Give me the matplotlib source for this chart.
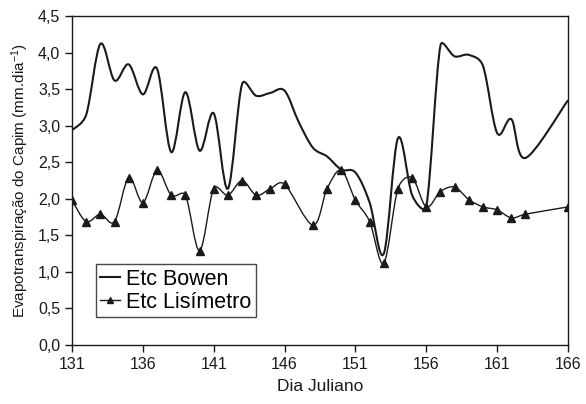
import matplotlib
matplotlib.use("Agg")
from matplotlib import pyplot as plt
from matplotlib.path import Path
from matplotlib.patches import PathPatch
from matplotlib.lines import Line2D
import numpy as np

plt.rcParams['font.family'] = ['Liberation Sans', 'DejaVu Sans']
plt.rcParams['mathtext.fontset'] = 'custom'
plt.rcParams['mathtext.rm'] = 'Liberation Sans'
plt.rcParams['mathtext.it'] = 'Liberation Sans'

# Etc Bowen (mm/dia)
dias_bowen = [131, 132, 133, 134, 135, 136, 137, 138, 139, 140, 141, 142,
              143, 144, 145, 146, 147, 148, 149, 150, 151, 152, 153, 154,
              155, 156, 157, 158, 159, 160, 161, 162, 163, 166]
etc_bowen = [2.94, 3.15, 4.12, 3.62, 3.84, 3.43, 3.78, 2.64, 3.46, 2.66, 3.17, 2.14,
             3.57, 3.41, 3.45, 3.48, 3.05, 2.70, 2.58, 2.40, 2.36, 1.95, 1.25, 2.83,
             2.05, 1.90, 4.10, 3.95, 3.97, 3.82, 2.90, 3.09, 2.56, 3.35]

# Etc Lisimetro (mm/dia)
dias_lis = [131, 132, 133, 134, 135, 136, 137, 138, 139, 140, 141, 142,
            143, 144, 145, 146, 148, 149, 150, 151, 152, 153, 154, 155,
            156, 157, 158, 159, 160, 161, 162, 163, 166]
etc_lis = [1.98, 1.69, 1.79, 1.69, 2.29, 1.95, 2.39, 2.05, 2.05, 1.29, 2.14, 2.05,
           2.25, 2.05, 2.14, 2.20, 1.64, 2.14, 2.39, 1.98, 1.69, 1.12, 2.14, 2.29,
           1.89, 2.10, 2.16, 1.99, 1.89, 1.85, 1.74, 1.79, 1.89]


def smooth_path(ax, x, y, k=0.5):
    # bezier "smoothed line": catmull-rom tangents, worked out in screen
    # space and shortened where a neighbouring segment is short
    to_px = ax.transData
    p = to_px.transform(np.column_stack([x, y]))
    n = len(p)
    tang = []
    for i in range(n):
        tang.append((p[min(i + 1, n - 1)] - p[max(i - 1, 0)]) / 6)
    verts = [p[0]]
    codes = [Path.MOVETO]
    for i in range(n - 1):
        seg = np.hypot(*(p[i + 1] - p[i]))
        t1, t2 = tang[i], tang[i + 1]
        l1, l2 = np.hypot(*t1), np.hypot(*t2)
        if l1 > k * seg:
            t1 = t1 * k * seg / l1
        if l2 > k * seg:
            t2 = t2 * k * seg / l2
        verts += [p[i] + t1, p[i + 1] - t2, p[i + 1]]
        codes += [Path.CURVE4] * 3
    verts = to_px.inverted().transform(np.array(verts))
    return Path(verts, codes)


fig = plt.figure(figsize=(5.86, 4.04), dpi=100)
ax = fig.add_axes([0.1229, 0.146, 0.8464, 0.814])
ax.set_xlim(131, 166)
ax.set_ylim(0, 4.5)

cor = '#1a1a1a'
ax.add_patch(PathPatch(smooth_path(ax, dias_bowen, etc_bowen), fill=False,
                       edgecolor=cor, lw=1.5))
ax.add_patch(PathPatch(smooth_path(ax, dias_lis, etc_lis), fill=False,
                       edgecolor=cor, lw=1.0))
ax.plot(dias_lis, etc_lis, linestyle='none', marker='^', markersize=6,
        color=cor)

ax.set_xticks(range(131, 167, 5))
ax.set_yticks([i * 0.5 for i in range(10)])
ax.set_yticklabels([('%.1f' % (i * 0.5)).replace('.', ',') for i in range(10)])
ax.tick_params(direction='out', length=5, width=1, colors=cor, labelsize=11.5)
for s in ax.spines.values():
    s.set_color(cor)
    s.set_linewidth(1.0)

ax.set_xlabel('Dia Juliano', fontsize=12.5, color=cor, labelpad=5)
ax.set_ylabel(r'Evapotranspiração do Capim (mm.dia$^{-1}$)', fontsize=11,
              color=cor, labelpad=5)

handles = [Line2D([], [], color=cor, lw=1.5),
           Line2D([], [], color=cor, lw=1.0, marker='^', markersize=5)]
leg = ax.legend(handles, ['Etc Bowen', 'Etc Lisímetro'], loc='lower left',
                bbox_to_anchor=(0.048, 0.085), fontsize=15.5, frameon=True,
                fancybox=False, handlelength=0.9, handletextpad=0.3,
                borderpad=0.2, labelspacing=0.1, borderaxespad=0)
leg.get_frame().set_edgecolor(cor)
leg.get_frame().set_linewidth(1.0)

fig.savefig('out.png', dpi=100)
